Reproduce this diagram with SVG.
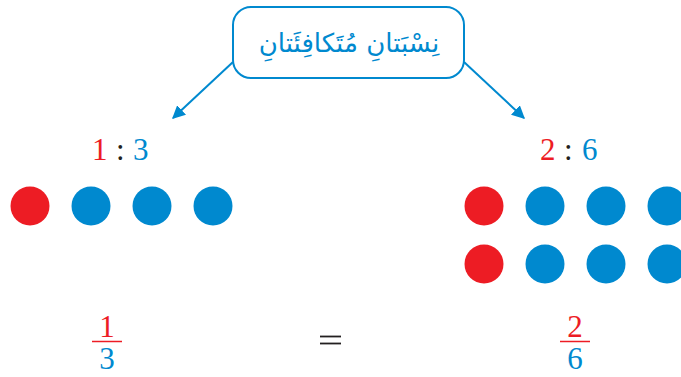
<svg xmlns="http://www.w3.org/2000/svg" width="681" height="377" viewBox="0 0 681 377">
<style>
.blue{fill:#0089cf}
.red{fill:#ed1c24}
.num{font-family:"Liberation Serif","DejaVu Serif",serif;font-size:31px}
.col{fill:#231f20}
.conn{stroke:#0089cf;stroke-width:2;fill:none}
</style>
<defs>
<marker id="ah" viewBox="0 0 10 10" refX="9" refY="5" markerWidth="6.5" markerHeight="6.5" orient="auto" markerUnits="strokeWidth">
<path d="M0,0 L10,5 L0,10 z" fill="#0089cf"/>
</marker>
</defs>
<g id="title">
<rect x="233" y="7" width="231" height="71" rx="18" fill="#fff" stroke="#0089cf" stroke-width="2"/>
<text x="349" y="52" text-anchor="middle" class="blue" font-family="'DejaVu Sans',sans-serif" font-size="26" direction="rtl">نِسْبَتانِ مُتَكافِئَتانِ</text>
</g>
<g id="connectors">
<line class="conn" x1="233" y1="62" x2="173" y2="118" marker-end="url(#ah)"/>
<line class="conn" x1="464" y1="62" x2="524" y2="118" marker-end="url(#ah)"/>
</g>
<g id="left-ratio">
<text class="num" y="160"><tspan x="92" class="red">1</tspan><tspan x="116" class="col">:</tspan><tspan x="133" class="blue">3</tspan></text>
</g>
<g id="right-ratio">
<text class="num" y="160"><tspan x="540" class="red">2</tspan><tspan x="564" class="col">:</tspan><tspan x="582" class="blue">6</tspan></text>
</g>
<g id="left-dots">
<circle cx="30" cy="206" r="19.5" class="red"/>
<circle cx="91" cy="206" r="19.5" class="blue"/>
<circle cx="152" cy="206" r="19.5" class="blue"/>
<circle cx="213" cy="206" r="19.5" class="blue"/>
</g>
<g id="right-dots">
<circle cx="484" cy="206" r="19.5" class="red"/>
<circle cx="545" cy="206" r="19.5" class="blue"/>
<circle cx="606" cy="206" r="19.5" class="blue"/>
<circle cx="667" cy="206" r="19.5" class="blue"/>
<circle cx="484" cy="264" r="19.5" class="red"/>
<circle cx="545" cy="264" r="19.5" class="blue"/>
<circle cx="606" cy="264" r="19.5" class="blue"/>
<circle cx="667" cy="264" r="19.5" class="blue"/>
</g>
<g id="left-fraction">
<text x="107" y="337" text-anchor="middle" class="num red">1</text>
<line x1="92" y1="341.5" x2="122" y2="341.5" stroke="#ed1c24" stroke-width="1.5"/>
<text x="107" y="369" text-anchor="middle" class="num blue">3</text>
</g>
<g id="equals">
<line x1="320" y1="336.5" x2="341" y2="336.5" stroke="#231f20" stroke-width="1.8"/>
<line x1="320" y1="343.5" x2="341" y2="343.5" stroke="#231f20" stroke-width="1.8"/>
</g>
<g id="right-fraction">
<text x="575" y="337" text-anchor="middle" class="num red">2</text>
<line x1="560" y1="341.5" x2="590" y2="341.5" stroke="#ed1c24" stroke-width="1.5"/>
<text x="575" y="369" text-anchor="middle" class="num blue">6</text>
</g>
</svg>
